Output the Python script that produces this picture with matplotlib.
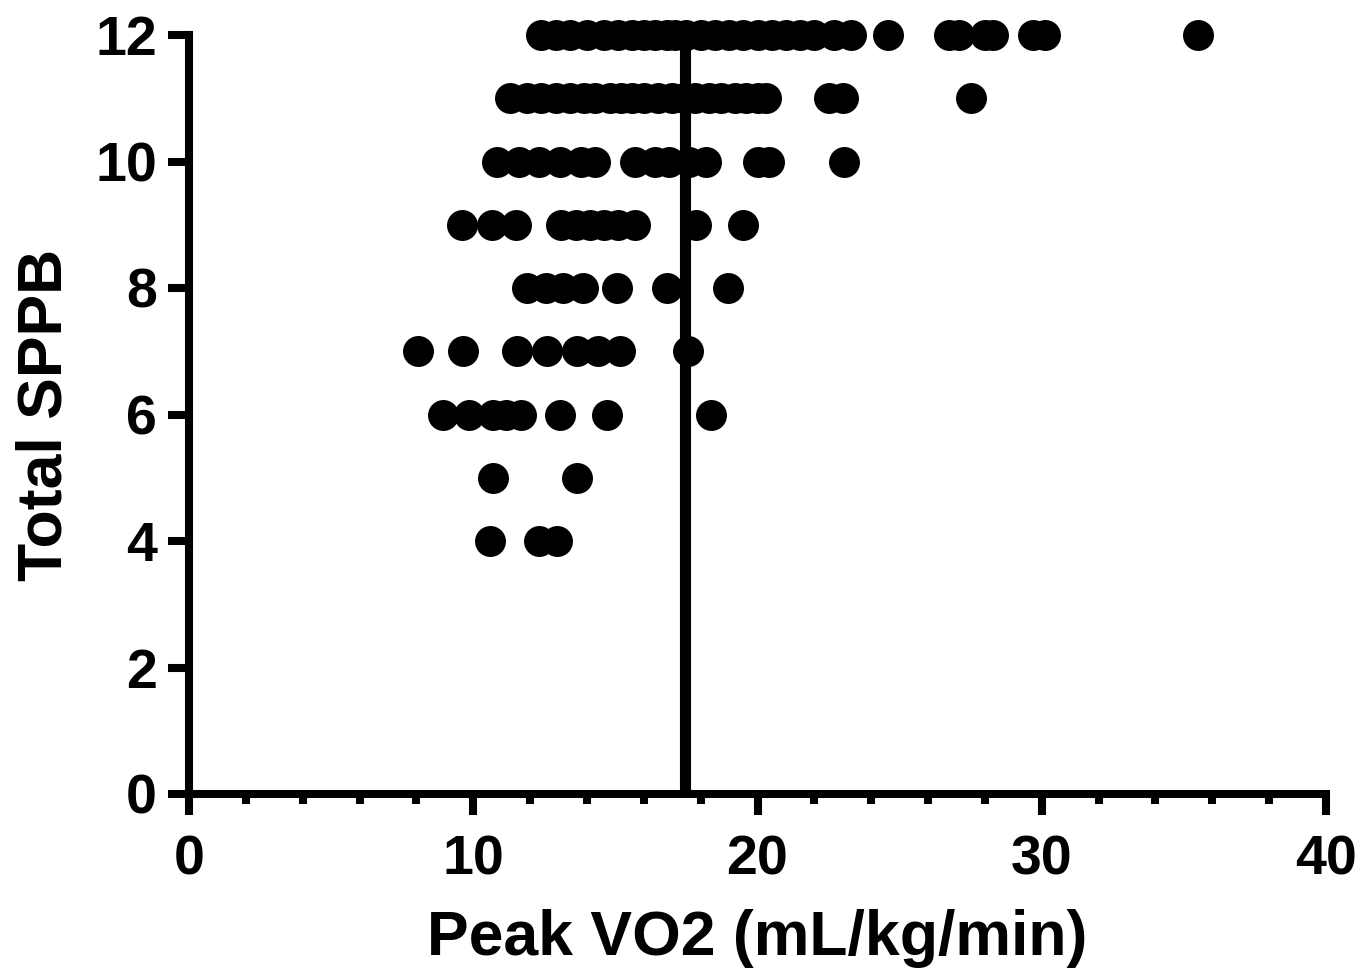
import matplotlib
matplotlib.use("Agg")
import matplotlib.pyplot as plt
from matplotlib.ticker import MultipleLocator

plt.rcParams['font.family'] = ['Liberation Sans', 'DejaVu Sans']
plt.rcParams['font.weight'] = 'bold'

# Peak VO2 values grouped by Total SPPB score
sppb_levels = [4, 5, 6, 7, 8, 9, 10, 11, 12]
vo2_sppb4 = [10.6, 12.3, 12.95]
vo2_sppb5 = [10.7, 13.65]
vo2_sppb6 = [8.95, 9.85, 10.7, 11.15, 11.68, 13.05, 14.7, 18.35]
vo2_sppb7 = [8.05, 9.65, 11.55, 12.6, 13.65, 14.4, 15.15, 17.55]
vo2_sppb8 = [11.9, 12.55, 13.15, 13.85, 15.05, 16.8, 18.95]
vo2_sppb9 = [9.6, 10.65, 11.5, 13.1, 13.6, 14.1, 14.6, 15.1, 15.7, 17.85, 19.5]
vo2_sppb10 = [10.85, 11.6, 12.3, 13.05, 13.8, 14.3, 15.7, 16.4, 16.9, 17.6,
              18.2, 20.0, 20.4, 23.05]
vo2_sppb11 = [11.3, 11.9, 12.4, 12.9, 13.4, 13.9, 14.3, 14.8, 15.2, 15.6,
              16.0, 16.5, 17.0, 17.4, 17.8, 18.3, 18.7, 19.2, 19.6, 20.0,
              20.3, 22.5, 23.0, 27.5]
vo2_sppb12 = [12.4, 12.9, 13.4, 14.0, 14.6, 15.1, 15.6, 16.0, 16.4, 16.8,
              17.1, 17.5, 18.0, 18.5, 19.0, 19.5, 20.0, 20.5, 21.0, 21.5,
              22.0, 22.7, 23.3, 24.6, 26.75, 27.1, 28.0, 28.3, 29.7, 30.1,
              35.5]
vo2_groups = [vo2_sppb4, vo2_sppb5, vo2_sppb6, vo2_sppb7, vo2_sppb8,
              vo2_sppb9, vo2_sppb10, vo2_sppb11, vo2_sppb12]

cutoff_vo2 = 17.45
x_ticks = [0, 10, 20, 30, 40]
y_ticks = [0, 2, 4, 6, 8, 10, 12]

fig = plt.figure(figsize=(13.72, 9.77), dpi=100)
ax = fig.add_axes([189 / 1372, 1 - 794 / 977, (1326 - 189) / 1372, (794 - 35) / 977])

ax.axvline(cutoff_vo2, ymin=0, ymax=1, color='black', lw=8, zorder=2)

for level, vals in zip(sppb_levels, vo2_groups):
    ax.plot(vals, [level] * len(vals), 'o', color='black', markersize=22.3,
            markeredgewidth=0, clip_on=False, zorder=3)

ax.set_xlim(0, 40)
ax.set_ylim(0, 12)
ax.set_xticks(x_ticks)
ax.set_yticks(y_ticks)
ax.xaxis.set_minor_locator(MultipleLocator(2))

for side in ['top', 'right']:
    ax.spines[side].set_visible(False)
for side in ['left', 'bottom']:
    ax.spines[side].set_linewidth(5.8)

ax.tick_params(axis='both', which='major', length=15, width=5.8,
               labelsize=40, direction='out')
ax.tick_params(axis='x', which='major', pad=14)
ax.tick_params(axis='y', which='major', pad=8)
ax.tick_params(axis='x', which='minor', length=7, width=5.8, direction='out')

for lab in ax.get_xticklabels() + ax.get_yticklabels():
    lab.set_fontweight('bold')

ax.set_xlabel('Peak VO2 (mL/kg/min)', fontsize=45, fontweight='bold', labelpad=16)
ax.set_ylabel('Total SPPB', fontsize=45, fontweight='bold', labelpad=15)

fig.savefig('out.png', dpi=100)
